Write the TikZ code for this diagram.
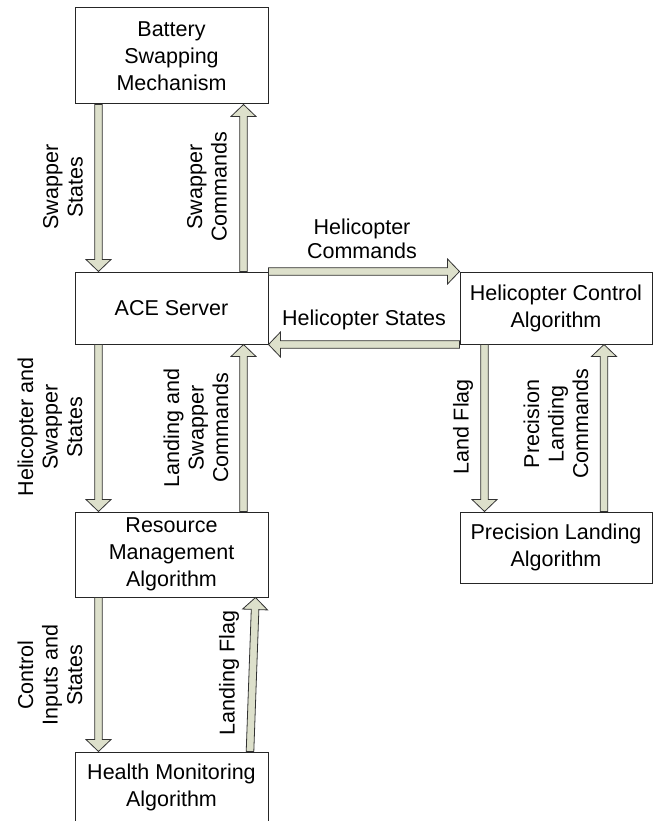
\documentclass[tikz,border=0pt]{standalone}
\usepackage{fontspec}
\setmainfont{Liberation Sans}
\usetikzlibrary{calc}
\definecolor{arrfill}{RGB}{221,224,203}
\definecolor{arrline}{RGB}{50,50,50}
\newcommand\blockarr[3]{%
  \path ($(#2)!12pt!(#1)$) coordinate (#3h);
  \draw[barr] ($(#1)!3.8pt!90:(#2)$) -- ($(#3h)!3.8pt!90:(#2)$) -- ($(#3h)!12.5pt!90:(#2)$) -- (#2)
     -- ($(#3h)!12.5pt!-90:(#2)$) -- ($(#3h)!3.8pt!-90:(#2)$) -- ($(#1)!3.8pt!-90:(#2)$) -- cycle;}
\begin{document}
\begin{tikzpicture}[x=1pt,y=-1pt,
  box/.style={draw=black!85, line width=1pt, fill=white, align=center, inner sep=0pt,
    font=\fontsize{21.5}{27}\selectfont},
  lbl/.style={align=center, inner sep=0pt, font=\fontsize{21.5}{24.5}\selectfont},
  barr/.style={draw=arrline, fill=arrfill, line width=0.8pt, line join=miter}]
\useasboundingbox (0,0) rectangle (654,821);
\fill[white] (0,0) rectangle (654,821);
% boxes
\node[box, minimum width=193, minimum height=96] (bat) at (171.5,56) {Battery\\Swapping\\Mechanism};
\node[box, minimum width=193, minimum height=72] (ace) at (171.5,308) {ACE Server};
\node[box, minimum width=193, minimum height=85] (rma) at (171.5,554.5) {Resource\\Management\\Algorithm};
\node[box, minimum width=193, minimum height=70] (hma) at (171.5,787) {Health Monitoring\\Algorithm};
\node[box, minimum width=192, minimum height=72] (hca) at (556,308) {Helicopter Control\\Algorithm};
\node[box, minimum width=192, minimum height=71] (pla) at (556,547.5) {Precision Landing\\Algorithm};
% arrow end points
\coordinate (a1s) at ($(bat.south west)+(24,0)$);
\coordinate (a1e) at ($(ace.north west)+(24,0)$);
\coordinate (a2s) at ($(ace.north west)+(169,0)$);
\coordinate (a2e) at ($(bat.south west)+(169,0)$);
\coordinate (a5s) at ($(ace.south west)+(24,0)$);
\coordinate (a5e) at ($(rma.north west)+(24,0)$);
\coordinate (a6s) at ($(rma.north west)+(169,0)$);
\coordinate (a6e) at ($(ace.south west)+(169,0)$);
\coordinate (a7s) at ($(rma.south west)+(24,0)$);
\coordinate (a7e) at ($(hma.north west)+(24,0)$);
\coordinate (a8s) at ($(hma.north west)+(175.5,0)$);
\coordinate (a8e) at ($(rma.south west)+(181,0)$);
\coordinate (a9s) at ($(hca.south west)+(25,0)$);
\coordinate (a9e) at ($(pla.north west)+(25,0)$);
\coordinate (a10s) at ($(pla.north west)+(144.5,0)$);
\coordinate (a10e) at ($(hca.south west)+(144.5,0)$);
% arrows
\blockarr{a1s}{a1e}{x1}
\blockarr{a2s}{a2e}{x2}
\blockarr{ace.north east}{hca.north west}{x3}
\blockarr{hca.south west}{ace.south east}{x4}
\blockarr{a5s}{a5e}{x5}
\blockarr{a6s}{a6e}{x6}
\blockarr{a7s}{a7e}{x7}
\blockarr{a8s}{a8e}{x8}
\blockarr{a9s}{a9e}{x9}
\blockarr{a10s}{a10e}{x10}
% labels
\node[lbl, rotate=90] (l1) at (63,187) {Swapper\\States};
\node[lbl, rotate=90] (l2) at (207,187) {Swapper\\Commands};
\node[lbl] (l3) at (362,239) {Helicopter\\Commands};
\node[lbl] (l4) at (364,320) {Helicopter States};
\node[lbl, rotate=90] (l5) at (50,427) {Helicopter and\\Swapper\\States};
\node[lbl, rotate=90] (l6) at (196,428) {Landing and\\Swapper\\Commands};
\node[lbl, rotate=90] (l7) at (50,675) {Control\\Inputs and\\States};
\node[lbl, rotate=90] (l8) at (229,673) {Landing Flag};
\node[lbl, rotate=90] (l9) at (463,427) {Land Flag};
\node[lbl, rotate=90] (l10) at (556,424) {Precision\\Landing\\Commands};
\end{tikzpicture}
\end{document}
